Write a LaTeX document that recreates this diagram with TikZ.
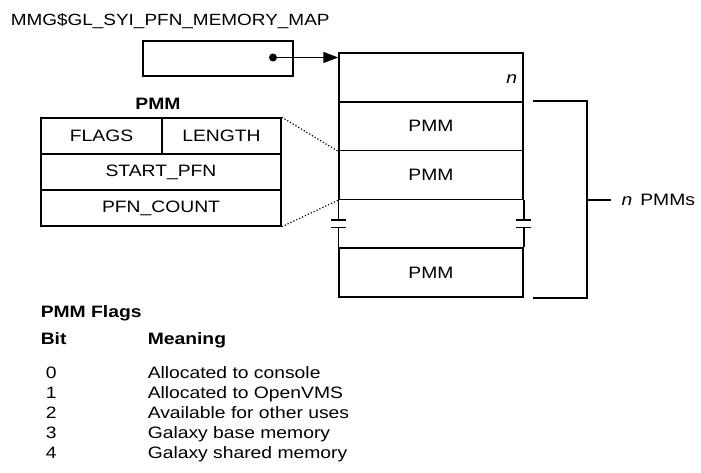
\documentclass[tikz,border=0pt]{standalone}
\usepackage{fontspec}
\setmainfont{Liberation Sans}[FakeStretch=1.17]
\usetikzlibrary{arrows.meta}
\begin{document}
\begin{tikzpicture}[x=1pt,y=-1pt,line width=1.5pt,>={Triangle[length=15pt,width=11pt]},
  every node/.style={font=\fontsize{16.5}{19}\selectfont},
  cell/.style={draw,minimum height=36pt,inner sep=0pt},
  slot/.style={draw,minimum width=184pt,minimum height=48.8pt,inner sep=0pt},
  txt/.style={anchor=base west,inner sep=0pt}]
 \useasboundingbox (0,0) rectangle (701,473);
 % pointer cell
 \node[txt,font=\fontsize{16.2}{19}\selectfont] (mapname) at (10,26) {MMG\$GL\_SYI\_PFN\_MEMORY\_MAP};
 \node[draw,minimum width=150pt,minimum height=35pt] (ptr) at (218,58.5) {};
 \node[circle,fill,inner sep=0pt,minimum size=8pt] (dot) at (273,57.5) {};
 % memory map
 \node[slot] (hdr) at (431,77.4) {};
 \node[anchor=east,inner sep=0pt] (cnt) at ([xshift=-6pt,yshift=-2pt]hdr.east) {\textit{n}};
 \node[slot] (pmmA) at (431,126.2) {PMM};
 \node[slot] (pmmB) at (431,175) {PMM};
 \node[slot] (pmmC) at (431,272.6) {PMM};
 \draw[->] (dot.center) -- (dot.center -| hdr.west);
 % break in the list
 \draw (pmmB.south west) -- ++(0,20) ++(-7.5,0) -- ++(15,0)
       (pmmC.north west) -- ++(0,-20) ++(-7.5,0) -- ++(15,0);
 \draw (pmmB.south east) -- ++(0,20) ++(-7.5,0) -- ++(15,0)
       (pmmC.north east) -- ++(0,-20) ++(-7.5,0) -- ++(15,0);
 % bracket
 \coordinate (brTop) at ([xshift=9pt]pmmA.north east);
 \coordinate (brBot) at ([xshift=9pt]pmmC.south east);
 \coordinate (brMid) at ([xshift=63pt]pmmB.south east);
 \draw (brTop) -| (brMid) |- (brBot);
 \node[anchor=west,inner sep=0pt] (npmm) at ([xshift=34pt]brMid) {\textit{n}\, PMMs};
 \draw (brMid) -- ([xshift=-10pt]npmm.west);
 % PMM layout
 \node[font=\fontsize{16.5}{19}\selectfont\bfseries] (pmmname) at (158,104) {PMM};
 \node[cell,minimum width=121pt] (flags) at (101.5,136) {FLAGS};
 \node[cell,minimum width=119pt] (length) at (221.5,136) {LENGTH};
 \node[cell,minimum width=240pt] (start) at (161,172) {START\_PFN};
 \node[cell,minimum width=240pt] (count) at (161,208) {PFN\_COUNT};
 \draw[dotted,line width=1.2pt] (length.north east) -- (pmmA.south west)
       (count.south east) -- (pmmB.south west);
 % flag bits
 \node[txt,font=\fontsize{16.5}{19}\selectfont\bfseries] (flagtitle) at (40,317) {PMM Flags};
 \node[txt,font=\fontsize{16.5}{19}\selectfont\bfseries] (bithead) at (40,344) {Bit};
 \node[txt,font=\fontsize{16.5}{19}\selectfont\bfseries] (meanhead) at (147,344) {Meaning};
 \foreach \b/\m [count=\i] in {0/Allocated to console,1/Allocated to OpenVMS,
   2/Available for other uses,3/Galaxy base memory,4/Galaxy shared memory}
  {\node[txt] (bit\b) at (45,358+20*\i) {\b};
   \node[txt] (mean\b) at (147,358+20*\i) {\m};}
\end{tikzpicture}
\end{document}
